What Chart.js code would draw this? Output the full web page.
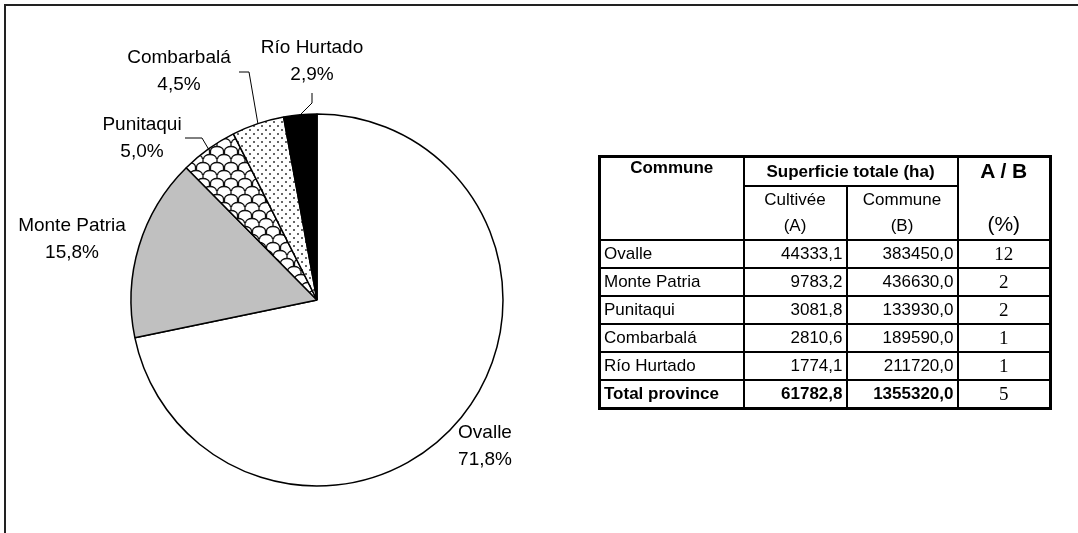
<!DOCTYPE html>
<html lang="fr">
<head>
<meta charset="utf-8">
<title>Superficie cultivée par commune</title>
<script src="https://cdn.jsdelivr.net/npm/chart.js@4.4.0/dist/chart.umd.min.js"></script>
<style>
    html, body { margin: 0; padding: 0; background: #fff; }
    #wrap { position: relative; width: 1078px; height: 533px; overflow: hidden; font-family: "Liberation Sans", Arial, sans-serif; color: #000; }
    #frame { position: absolute; left: 4px; top: 4px; width: 1100px; height: 560px; border-top: 2px solid #222; border-left: 2px solid #222; }
    #pie { position: absolute; left: 0; top: 0; }
    #tbl { position: absolute; left: 598px; top: 155px; border-collapse: collapse; table-layout: fixed; font-size: 17px; border: 3px solid #000; }
    #tbl td { border: 2px solid #000; padding: 0 3px; white-space: nowrap; line-height: 19px; }
    #tbl .b { font-weight: bold; }
    #tbl .num { text-align: right; }
    #tbl .ratio { text-align: center; font-family: "Liberation Serif", "Times New Roman", serif; font-size: 19px; }
    #tbl .top { vertical-align: top; text-align: center; }
    #tbl tr.row td { height: 26px; }
</style>
</head>
<body>
<div id="wrap">
    <div id="frame"></div>
    <canvas id="pie" width="1078" height="533"></canvas>
    <table id="tbl">
        <colgroup><col style="width:144px"><col style="width:103px"><col style="width:111px"><col style="width:93px"></colgroup>
        <tbody id="tblBody"></tbody>
    </table>
</div>
<script>
// données (ha)
const communes = ['Ovalle', 'Monte Patria', 'Punitaqui', 'Combarbalá', 'Río Hurtado'];
const cultivee = [44333.1, 9783.2, 3081.8, 2810.6, 1774.1];
const superficie = [383450.0, 436630.0, 133930.0, 189590.0, 211720.0];
const ratioAB = [12, 2, 2, 1, 1];
const totalLabel = 'Total province';
const totalCultivee = 61782.8;
const totalSuperficie = 1355320.0;
const totalRatio = 5;

// placement des étiquettes, relatif au centre du camembert
const labelLayout = [
    { dx: 168, dy: 133 },
    { dx: -245, dy: -74 },
    { dx: -175, dy: -175, leader: [[-132, -162], [-115, -162]] },
    { dx: -138, dy: -242, leader: [[-78, -228], [-68, -228]] },
    { dx: -5, dy: -252, leader: [[-5, -207], [-5, -197]] }
];

const fmt = v => v.toFixed(1).replace('.', ',');

// motif "tuiles"
function makeShingle() {
    const c = document.createElement('canvas');
    c.width = 14; c.height = 16;
    const g = c.getContext('2d');
    g.fillStyle = '#fff';
    g.fillRect(0, 0, 14, 16);
    g.strokeStyle = '#111';
    g.lineWidth = 1.3;
    [[7, 8], [0, 16], [14, 16]].forEach(([cx, cy]) => {
        g.beginPath();
        g.ellipse(cx, cy - 1, 6.5, 4.5, 0, Math.PI, 2 * Math.PI);
        g.stroke();
    });
    g.beginPath();
    g.moveTo(0.5, 7); g.lineTo(0.5, 11);
    g.moveTo(13.5, 7); g.lineTo(13.5, 11);
    g.moveTo(7, 0); g.lineTo(7, 3);
    g.moveTo(7, 15); g.lineTo(7, 16);
    g.stroke();
    return g.createPattern(c, 'repeat');
}

// motif pointillé
function makeDots() {
    const c = document.createElement('canvas');
    c.width = 8; c.height = 8;
    const g = c.getContext('2d');
    g.fillStyle = '#fff';
    g.fillRect(0, 0, 8, 8);
    g.fillStyle = '#333';
    [[2, 2], [6, 6]].forEach(([x, y]) => { g.beginPath(); g.arc(x, y, 1, 0, 2 * Math.PI); g.fill(); });
    return g.createPattern(c, 'repeat');
}

const fills = ['#ffffff', '#c0c0c0', makeShingle(), makeDots(), '#000000'];

const outsideLabels = {
    id: 'outsideLabels',
    afterDatasetsDraw(chart) {
        const ctx = chart.ctx;
        const data = chart.data.datasets[0].data;
        const sum = data.reduce((s, v) => s + v, 0);
        ctx.save();
        ctx.font = '19px "Liberation Sans", Arial, sans-serif';
        ctx.fillStyle = '#000';
        ctx.strokeStyle = '#000';
        ctx.lineWidth = 1;
        ctx.textAlign = 'center';
        ctx.textBaseline = 'middle';
        chart.getDatasetMeta(0).data.forEach((arc, i) => {
            const p = arc.getProps(['x', 'y', 'startAngle', 'endAngle', 'outerRadius'], true);
            const lay = labelLayout[i];
            const tx = p.x + lay.dx, ty = p.y + lay.dy;
            ctx.fillText(chart.data.labels[i], tx, ty);
            ctx.fillText(fmt(data[i] / sum * 100) + '%', tx, ty + 27);
            if (lay.leader) {
                const mid = (p.startAngle + p.endAngle) / 2;
                ctx.beginPath();
                ctx.moveTo(p.x + lay.leader[0][0], p.y + lay.leader[0][1]);
                ctx.lineTo(p.x + lay.leader[1][0], p.y + lay.leader[1][1]);
                ctx.lineTo(p.x + Math.cos(mid) * p.outerRadius, p.y + Math.sin(mid) * p.outerRadius);
                ctx.stroke();
            }
        });
        ctx.restore();
    }
};

new Chart(document.getElementById('pie'), {
    type: 'pie',
    data: {
        labels: communes,
        datasets: [{ data: cultivee, backgroundColor: fills, borderColor: '#000', borderWidth: 1.5, hoverOffset: 0 }]
    },
    options: {
        responsive: false,
        animation: false,
        radius: 186,
        layout: { padding: { left: 117, right: 561, top: 100, bottom: 33 } },
        plugins: { legend: { display: false }, tooltip: { enabled: false } }
    },
    plugins: [outsideLabels]
});

// tableau
const body = document.getElementById('tblBody');
let html = '';
html += '<tr style="height:29px"><td rowspan="2" class="b top">Commune</td>' +
    '<td colspan="2" class="b" style="text-align:center">Superficie totale (ha)</td>' +
    '<td rowspan="2" style="text-align:center;vertical-align:top;padding:0"><div style="height:78px;display:flex;flex-direction:column;justify-content:space-between;align-items:center">' +
    '<span class="b" style="font-size:21px;line-height:26px">A / B</span><span style="font-size:21px;line-height:24px">(%)</span></div></td></tr>';
html += '<tr style="height:53px"><td style="text-align:center;line-height:26px">Cultivée<br>(A)</td>' +
    '<td style="text-align:center;line-height:26px">Commune<br>(B)</td></tr>';
communes.forEach((c, i) => {
    html += `<tr class="row"><td>${c}</td><td class="num">${fmt(cultivee[i])}</td><td class="num">${fmt(superficie[i])}</td><td class="ratio">${ratioAB[i]}</td></tr>`;
});
html += `<tr class="row"><td class="b">${totalLabel}</td><td class="num b">${fmt(totalCultivee)}</td><td class="num b">${fmt(totalSuperficie)}</td><td class="ratio">${totalRatio}</td></tr>`;
body.innerHTML = html;
</script>
</body>
</html>
